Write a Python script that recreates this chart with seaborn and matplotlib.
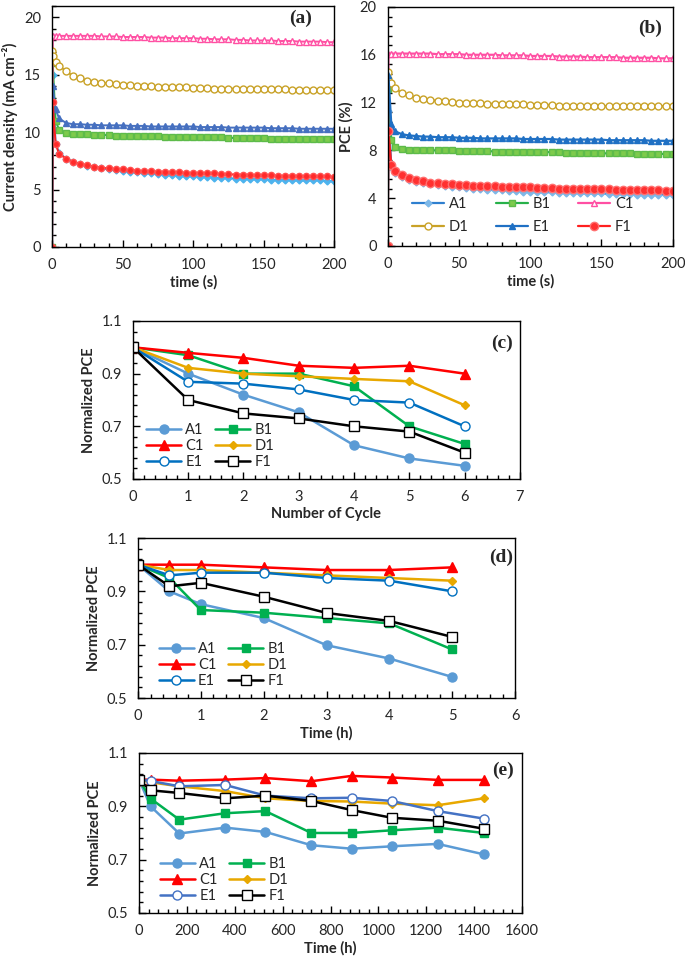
import matplotlib
matplotlib.use("Agg")
import matplotlib.pyplot as plt
from matplotlib.ticker import MultipleLocator
import seaborn as sns

sns.set_style("ticks")
plt.rcParams['font.family'] = ['Lato', 'DejaVu Sans']

labels = ['A1', 'B1', 'C1', 'D1', 'E1', 'F1']

# ---- (a) and (b): current density / PCE vs time ----
t_s = [0, 0.5, 2.5, 5, 10, 15, 20, 25, 30, 35,
       40, 45, 50, 55, 60, 65, 70, 75, 80, 85,
       90, 95, 100, 105, 110, 115, 120, 125, 130, 135,
       140, 145, 150, 155, 160, 165, 170, 175, 180, 185,
       190, 195, 200]

jsc_A1 = [0, 15.0, 9.0, 8.2, 7.7, 7.4, 7.2, 7.05, 6.95, 6.85,
          6.75, 6.7, 6.6, 6.55, 6.5, 6.45, 6.4, 6.35, 6.3, 6.25,
          6.2, 6.2, 6.15, 6.1, 6.1, 6.05, 6.0, 6.0, 5.95, 5.95,
          5.9, 5.9, 5.9, 5.85, 5.85, 5.85, 5.8, 5.8, 5.8, 5.8,
          5.8, 5.75, 5.75]
jsc_B1 = [0, 16.0, 11.0, 10.2, 9.9, 9.85, 9.8, 9.8, 9.75, 9.75,
          9.75, 9.7, 9.7, 9.7, 9.7, 9.65, 9.65, 9.65, 9.6, 9.6,
          9.6, 9.6, 9.6, 9.55, 9.55, 9.55, 9.55, 9.5, 9.5, 9.5,
          9.5, 9.5, 9.5, 9.45, 9.45, 9.45, 9.45, 9.45, 9.4, 9.4,
          9.4, 9.4, 9.4]
jsc_C1 = [0, 18.4, 18.4, 18.4, 18.4, 18.4, 18.4, 18.4, 18.4, 18.35,
          18.35, 18.35, 18.3, 18.3, 18.3, 18.3, 18.25, 18.25, 18.25, 18.2,
          18.2, 18.2, 18.2, 18.15, 18.15, 18.1, 18.1, 18.1, 18.05, 18.05,
          18.0, 18.0, 18.0, 18.0, 17.95, 17.95, 17.95, 17.9, 17.9, 17.9,
          17.9, 17.85, 17.85]
jsc_D1 = [17.1, 16.6, 16.1, 15.8, 15.3, 14.9, 14.7, 14.5, 14.4, 14.3,
          14.25, 14.2, 14.15, 14.1, 14.05, 14.0, 14.0, 13.95, 13.95, 13.9,
          13.9, 13.9, 13.85, 13.85, 13.85, 13.8, 13.8, 13.8, 13.8, 13.8,
          13.8, 13.75, 13.75, 13.75, 13.75, 13.75, 13.7, 13.7, 13.7, 13.7,
          13.7, 13.7, 13.7]
jsc_E1 = [0, 14.0, 12.0, 11.2, 10.8, 10.7, 10.7, 10.65, 10.65, 10.6,
          10.6, 10.6, 10.6, 10.55, 10.55, 10.55, 10.5, 10.5, 10.5, 10.5,
          10.5, 10.5, 10.5, 10.45, 10.45, 10.45, 10.45, 10.4, 10.4, 10.4,
          10.4, 10.4, 10.4, 10.35, 10.35, 10.35, 10.35, 10.3, 10.3, 10.3,
          10.3, 10.3, 10.3]
jsc_F1 = [0, 12.6, 9.0, 8.1, 7.7, 7.4, 7.25, 7.1, 7.0, 6.9,
          6.85, 6.8, 6.75, 6.7, 6.65, 6.6, 6.6, 6.55, 6.55, 6.5,
          6.5, 6.45, 6.45, 6.4, 6.4, 6.4, 6.35, 6.35, 6.3, 6.3,
          6.3, 6.25, 6.25, 6.25, 6.2, 6.2, 6.2, 6.2, 6.15, 6.15,
          6.15, 6.15, 6.1]

pce_A1 = [0, 11.3, 6.6, 6.1, 5.8, 5.5, 5.35, 5.25, 5.15, 5.1,
          5.0, 4.95, 4.9, 4.85, 4.8, 4.75, 4.7, 4.7, 4.65, 4.6,
          4.6, 4.55, 4.55, 4.5, 4.5, 4.5, 4.45, 4.45, 4.45, 4.4,
          4.4, 4.4, 4.4, 4.35, 4.35, 4.35, 4.35, 4.3, 4.3, 4.3,
          4.3, 4.3, 4.3]
pce_B1 = [0, 13.1, 8.9, 8.3, 8.1, 8.05, 8.0, 8.0, 8.0, 8.0,
          8.0, 8.0, 7.95, 7.95, 7.95, 7.95, 7.95, 7.9, 7.9, 7.9,
          7.9, 7.9, 7.9, 7.85, 7.85, 7.85, 7.85, 7.8, 7.8, 7.8,
          7.8, 7.8, 7.75, 7.75, 7.75, 7.75, 7.75, 7.7, 7.7, 7.7,
          7.7, 7.7, 7.7]
pce_C1 = [0, 16.1, 16.1, 16.1, 16.1, 16.1, 16.1, 16.1, 16.1, 16.05,
          16.05, 16.05, 16.05, 16.0, 16.0, 16.0, 16.0, 16.0, 15.95, 15.95,
          15.95, 15.95, 15.9, 15.9, 15.9, 15.9, 15.85, 15.85, 15.85, 15.85,
          15.8, 15.8, 15.8, 15.8, 15.8, 15.75, 15.75, 15.75, 15.75, 15.75,
          15.7, 15.7, 15.7]
pce_D1 = [14.6, 14.0, 13.6, 13.2, 12.8, 12.6, 12.4, 12.3, 12.2, 12.15,
          12.1, 12.05, 12.0, 12.0, 11.95, 11.95, 11.9, 11.9, 11.9, 11.85,
          11.85, 11.85, 11.8, 11.8, 11.8, 11.8, 11.75, 11.75, 11.75, 11.75,
          11.7, 11.7, 11.7, 11.7, 11.7, 11.7, 11.7, 11.7, 11.7, 11.7,
          11.7, 11.7, 11.7]
pce_E1 = [0, 14.3, 10.2, 9.6, 9.35, 9.25, 9.2, 9.15, 9.15, 9.1,
          9.1, 9.1, 9.05, 9.05, 9.05, 9.0, 9.0, 9.0, 9.0, 9.0,
          9.0, 8.95, 8.95, 8.95, 8.95, 8.95, 8.9, 8.9, 8.9, 8.9,
          8.9, 8.9, 8.9, 8.85, 8.85, 8.85, 8.85, 8.85, 8.85, 8.8,
          8.8, 8.8, 8.8]
pce_F1 = [0, 9.6, 6.8, 6.3, 5.9, 5.65, 5.5, 5.4, 5.3, 5.25,
          5.2, 5.15, 5.1, 5.1, 5.05, 5.0, 5.0, 5.0, 4.95, 4.95,
          4.9, 4.9, 4.9, 4.85, 4.85, 4.85, 4.8, 4.8, 4.8, 4.8,
          4.75, 4.75, 4.75, 4.75, 4.7, 4.7, 4.7, 4.7, 4.65, 4.65,
          4.65, 4.6, 4.6]

# ---- (c) normalized PCE vs cycle ----
cycle = [0, 1, 2, 3, 4, 5, 6]
cyc_A1 = [1.0, 0.90, 0.82, 0.753, 0.628, 0.578, 0.55]
cyc_B1 = [1.0, 0.97, 0.90, 0.90, 0.852, 0.70, 0.633]
cyc_C1 = [1.0, 0.979, 0.96, 0.93, 0.922, 0.93, 0.90]
cyc_D1 = [1.0, 0.922, 0.90, 0.89, 0.88, 0.871, 0.78]
cyc_E1 = [1.0, 0.869, 0.862, 0.84, 0.80, 0.79, 0.70]
cyc_F1 = [1.0, 0.80, 0.749, 0.73, 0.70, 0.68, 0.60]

# ---- (d) normalized PCE vs time (h), short ----
hours_d = [0, 0.5, 1, 2, 3, 4, 5]
d_A1 = [1.0, 0.90, 0.852, 0.80, 0.698, 0.648, 0.579]
d_B1 = [1.0, 0.95, 0.83, 0.82, 0.80, 0.78, 0.682]
d_C1 = [1.0, 1.0, 1.0, 0.99, 0.98, 0.98, 0.99]
d_D1 = [1.0, 0.98, 0.98, 0.97, 0.96, 0.95, 0.94]
d_E1 = [1.0, 0.96, 0.97, 0.97, 0.95, 0.94, 0.90]
d_F1 = [1.0, 0.919, 0.932, 0.88, 0.819, 0.789, 0.729]

# ---- (e) normalized PCE vs time (h), long ----
hours_e = [0, 48, 168, 360, 528, 720, 888, 1056, 1248, 1440]
e_A1 = [1.0, 0.90, 0.798, 0.82, 0.804, 0.754, 0.741, 0.75, 0.759, 0.72]
e_B1 = [1.0, 0.929, 0.85, 0.874, 0.882, 0.80, 0.80, 0.81, 0.82, 0.80]
e_C1 = [1.0, 1.0, 0.996, 1.0, 1.006, 0.994, 1.014, 1.008, 0.999, 0.999]
e_D1 = [1.0, 0.99, 0.975, 0.957, 0.93, 0.92, 0.918, 0.91, 0.904, 0.93]
e_E1 = [1.0, 0.995, 0.975, 0.98, 0.94, 0.93, 0.932, 0.92, 0.882, 0.854]
e_F1 = [1.0, 0.96, 0.95, 0.93, 0.94, 0.92, 0.886, 0.857, 0.846, 0.816]

# styles for top panels: (line colour, marker, face, edge, size)
style_a = {
    'A1': ('#1E9BE3', 'D', '#4DB3EE', '#4DB3EE', 3.5),
    'B1': ('#27B14A', 's', '#7DCB4C', '#5DBB4A', 4.5),
    'C1': ('#FF4FA3', '^', 'white', '#FF4FA3', 5),
    'D1': ('#C9A227', 'o', 'white', '#C9A227', 5),
    'E1': ('#4670C0', '^', '#4670C0', '#4670C0', 5),
    'F1': ('#FF1F1F', 'o', '#FF2A2A', '#FF5050', 4.5),
}
style_b = dict(style_a)
style_b['A1'] = ('#2E7FCF', 'D', '#7DB8E8', '#7DB8E8', 3.5)
style_b['E1'] = ('#1F70C4', '^', '#1F70C4', '#1F70C4', 5)
style_b['F1'] = ('#FF1F1F', 'o', '#FF3030', '#FF7070', 6)
# styles for normalized panels
style_norm = {
    'A1': ('#5B9BD5', 'o', '#5B9BD5', '#5B9BD5', 6.5),
    'B1': ('#00B050', 's', '#00B050', '#00B050', 6),
    'C1': ('#FF0000', '^', '#FF0000', '#FF0000', 7),
    'D1': ('#E8A800', 'D', '#E8A800', '#E8A800', 4),
    'E1': ('#0070C0', 'o', 'white', '#0070C0', 6.5),
    'F1': ('#000000', 's', 'white', '#000000', 6.5),
}
style_e = dict(style_norm)
style_e['E1'] = ('#4472C4', 'o', 'white', '#4472C4', 6.5)


def draw(ax, x, series, styles, lw):
    for lab, y in zip(labels, series):
        c, m, fc, ec, ms = styles[lab]
        sns.lineplot(x=x, y=y, ax=ax, color=c, lw=lw, marker=m, markersize=ms,
                     markerfacecolor=fc, markeredgecolor=ec, markeredgewidth=1.0,
                     label=lab, sort=False, estimator=None)


def frame(ax, xlim, xmaj, xmin, ylim, ymaj, ymin, yoff=0.0):
    ax.set_xlim(*xlim)
    ax.set_ylim(*ylim)
    ax.xaxis.set_major_locator(MultipleLocator(xmaj))
    ax.xaxis.set_minor_locator(MultipleLocator(xmin))
    ax.yaxis.set_major_locator(MultipleLocator(ymaj, offset=yoff))
    ax.yaxis.set_minor_locator(MultipleLocator(ymin, offset=yoff / 5))
    ax.tick_params(which='both', direction='in', top=False, right=False,
                   labelsize=10.5, color='black', width=1.0)
    ax.tick_params(which='major', length=5, pad=8)
    ax.tick_params(which='minor', length=3)
    for sp in ax.spines.values():
        sp.set_visible(True)
        sp.set_color('black')
        sp.set_linewidth(1.0)


def legend_rows(ax, ncol, **kw):
    # lay the entries out row by row, like the original
    h, l = ax.get_legend_handles_labels()
    nrow = len(h) // ncol
    order = [r * ncol + c for c in range(ncol) for r in range(nrow)]
    ax.legend([h[i] for i in order], [l[i] for i in order], ncol=ncol,
              frameon=False, fontsize=10.5, handletextpad=0.3, **kw)


fig = plt.figure(figsize=(6.85, 9.57), dpi=100)

# (a)
ax_a = fig.add_axes([0.076, 0.742, 0.412, 0.2517])
draw(ax_a, t_s, [jsc_A1, jsc_B1, jsc_C1, jsc_D1, jsc_E1, jsc_F1], style_a, 1.4)
frame(ax_a, (0, 200), 50, 10, (0, 21), 5, 1)
ax_a.set_xlabel('time (s)', fontsize=10.5, fontweight='bold', labelpad=2)
ax_a.set_ylabel('Current density (mA cm⁻²)', fontsize=10.5, fontweight='bold', labelpad=4)
ax_a.legend_.remove()
ax_a.text(0.88, 0.95, '(a)', transform=ax_a.transAxes, ha='center', va='center',
          family='Liberation Serif', fontweight='bold', fontsize=14)

# (b)
ax_b = fig.add_axes([0.566, 0.743, 0.416, 0.2497])
draw(ax_b, t_s, [pce_A1, pce_B1, pce_C1, pce_D1, pce_E1, pce_F1], style_b, 1.6)
frame(ax_b, (0, 200), 50, 10, (0, 20), 4, 0.8)
ax_b.set_xlabel('time (s)', fontsize=10.5, fontweight='bold', labelpad=2)
ax_b.set_ylabel('PCE (%)', fontsize=10.5, fontweight='bold', labelpad=4)
legend_rows(ax_b, 3, loc='lower left', bbox_to_anchor=(0.04, -0.005),
            handlelength=2.2, columnspacing=1.9, labelspacing=0.6)
ax_b.text(0.92, 0.91, '(b)', transform=ax_b.transAxes, ha='center', va='center',
          family='Liberation Serif', fontweight='bold', fontsize=14)

# (c)
ax_c = fig.add_axes([0.194, 0.4995, 0.565, 0.1651])
draw(ax_c, cycle, [cyc_A1, cyc_B1, cyc_C1, cyc_D1, cyc_E1, cyc_F1], style_norm, 1.8)
frame(ax_c, (0, 7), 1, 0.2, (0.5, 1.1), 0.2, 0.04, yoff=0.1)
ax_c.set_xlabel('Number of Cycle', fontsize=10.5, fontweight='bold', labelpad=2)
ax_c.set_ylabel('Normalized PCE', fontsize=10.5, fontweight='bold', labelpad=4)
legend_rows(ax_c, 2, loc='lower left', bbox_to_anchor=(0.0, -0.02),
            handlelength=2.4, columnspacing=0.8, labelspacing=0.15)
ax_c.text(0.953, 0.86, '(c)', transform=ax_c.transAxes, ha='center', va='center',
          family='Liberation Serif', fontweight='bold', fontsize=14)

# (d)
ax_d = fig.add_axes([0.2015, 0.2706, 0.5505, 0.1672])
draw(ax_d, hours_d, [d_A1, d_B1, d_C1, d_D1, d_E1, d_F1], style_norm, 1.8)
frame(ax_d, (0, 6), 1, 0.2, (0.5, 1.1), 0.2, 0.04, yoff=0.1)
ax_d.set_xlabel('Time (h)', fontsize=10.5, fontweight='bold', labelpad=2)
ax_d.set_ylabel('Normalized PCE', fontsize=10.5, fontweight='bold', labelpad=4)
legend_rows(ax_d, 2, loc='lower left', bbox_to_anchor=(0.02, -0.02),
            handlelength=2.4, columnspacing=0.8, labelspacing=0.15)
ax_d.text(0.963, 0.88, '(d)', transform=ax_d.transAxes, ha='center', va='center',
          family='Liberation Serif', fontweight='bold', fontsize=14)

# (e)
ax_e = fig.add_axes([0.203, 0.046, 0.559, 0.1672])
draw(ax_e, hours_e, [e_A1, e_B1, e_C1, e_D1, e_E1, e_F1], style_e, 1.8)
frame(ax_e, (0, 1600), 200, 40, (0.5, 1.1), 0.2, 0.04, yoff=0.1)
ax_e.set_xlabel('Time (h)', fontsize=10.5, fontweight='bold', labelpad=2)
ax_e.set_ylabel('Normalized PCE', fontsize=10.5, fontweight='bold', labelpad=4)
legend_rows(ax_e, 2, loc='lower left', bbox_to_anchor=(0.02, -0.02),
            handlelength=2.4, columnspacing=0.8, labelspacing=0.15)
ax_e.text(0.95, 0.89, '(e)', transform=ax_e.transAxes, ha='center', va='center',
          family='Liberation Serif', fontweight='bold', fontsize=14)

fig.savefig('out.png', dpi=100)
